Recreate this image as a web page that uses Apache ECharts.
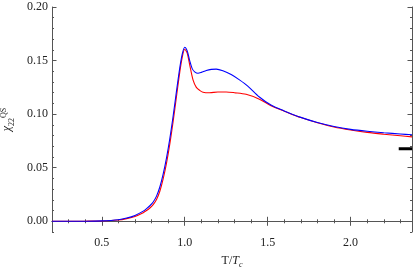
<!DOCTYPE html>
<html><head><meta charset="utf-8">
<script src="https://cdn.jsdelivr.net/npm/echarts@6/dist/echarts.min.js"></script>
<style>html,body{margin:0;padding:0;background:#fff}#c{width:417px;height:272px}</style>
</head><body><div id="c"></div>
<script>
// Blue curve
const blueX = [0.20,0.40,0.50,0.60,0.65,0.70,0.75,0.77,0.79,0.81,0.83,0.85,0.87,0.89,0.91,0.93,0.95,0.97,0.985,1.00,1.015,1.03,1.045,1.06,1.08,1.10,1.13,1.16,1.19,1.23,1.28,1.33,1.38,1.45,1.52,1.60,1.70,1.80,1.90,2.00,2.10,2.20,2.30,2.37];
const blueY = [0.0000,0.0001,0.0004,0.0015,0.0030,0.0055,0.0095,0.0118,0.0145,0.0180,0.0235,0.0320,0.0440,0.0590,0.0770,0.0980,0.1210,0.1430,0.1560,0.1625,0.1590,0.1500,0.1425,0.1395,0.1382,0.1390,0.1408,0.1418,0.1420,0.1405,0.1370,0.1320,0.1262,0.1160,0.1085,0.1030,0.0970,0.0922,0.0885,0.0858,0.0840,0.0826,0.0815,0.0807];
// Red curve
const redX = [0.20,0.40,0.50,0.60,0.65,0.70,0.75,0.77,0.79,0.81,0.83,0.85,0.87,0.89,0.91,0.93,0.95,0.97,0.985,1.00,1.015,1.03,1.05,1.07,1.09,1.11,1.15,1.20,1.25,1.30,1.37,1.45,1.52,1.60,1.70,1.80,1.90,2.00,2.10,2.20,2.30,2.37];
const redY = [0.0000,0.0001,0.0003,0.0012,0.0025,0.0045,0.0080,0.0100,0.0124,0.0155,0.0203,0.0280,0.0395,0.0540,0.0720,0.0930,0.1160,0.1390,0.1530,0.1605,0.1570,0.1460,0.1320,0.1250,0.1222,0.1205,0.1200,0.1207,0.1207,0.1200,0.1185,0.1140,0.1078,0.1028,0.0968,0.0920,0.0880,0.0852,0.0830,0.0813,0.0798,0.0788];
// Short black reference bar
const barX = [2.29, 2.37];
const barY = [0.0676, 0.0676];
// Ticks
const xMajor = [0.5, 1.0, 1.5, 2.0];
const yMajor = [0.00, 0.05, 0.10, 0.15, 0.20];
const xRange = [0.2, 2.37];
const yRange = [-0.01, 0.20];

const frame = '#555';
const font = "'Liberation Serif', 'DejaVu Serif', serif";
const pair = (xs, ys) => xs.map((x, i) => [x, ys[i]]);
const isMult = (v, s) => Math.abs(v / s - Math.round(v / s)) < 1e-6;

const gridRect = {left: 52, right: 5, top: 7, bottom: 40, containLabel: false, outerBoundsMode: 'none'};
function xAx(grid, pos, minor) {
  return {
    type: 'value', gridIndex: grid, position: pos, min: xRange[0], max: xRange[1],
    interval: minor ? 0.1 : undefined,
    axisLine: {show: minor, lineStyle: {color: frame, width: 1}},
    axisTick: minor ? {show: true, inside: true, length: 2, lineStyle: {color: frame}}
                    : {show: true, inside: true, length: 4.5, customValues: xMajor, lineStyle: {color: frame}},
    axisLabel: (minor && pos === 'bottom') ? {show: true, margin: 5, color: '#222', fontFamily: font, fontSize: 12,
      formatter: v => isMult(v, 0.5) ? v.toFixed(1) : ''} : {show: false},
    splitLine: {show: false}
  };
}
function yAx(grid, pos, minor) {
  return {
    type: 'value', gridIndex: grid, position: pos, min: yRange[0], max: yRange[1],
    interval: minor ? 0.01 : undefined,
    axisLine: {show: minor, lineStyle: {color: frame, width: 1}},
    axisTick: minor ? {show: true, inside: true, length: 2, lineStyle: {color: frame}}
                    : {show: true, inside: true, length: 4.5, customValues: yMajor, lineStyle: {color: frame}},
    axisLabel: (minor && pos === 'left') ? {show: true, margin: 4, color: '#222', fontFamily: font, fontSize: 12,
      formatter: v => (isMult(v, 0.05) && v > -0.001) ? Math.abs(v).toFixed(2) : ''} : {show: false},
    splitLine: {show: false}
  };
}

const xAxes = [xAx(0, 'bottom', true), xAx(0, 'top', true), xAx(1, 'bottom', false), xAx(1, 'top', false)];
const yAxes = [yAx(0, 'left', true), yAx(0, 'right', true), yAx(1, 'left', false), yAx(1, 'right', false)];

xAxes[0].name = '{n|T/}{i|T}{s|c}';
xAxes[0].nameLocation = 'middle';
xAxes[0].nameGap = 21;
xAxes[0].nameTextStyle = {color: '#222', rich: {
  n: {fontFamily: font, fontSize: 12, color: '#222', lineHeight: 16},
  i: {fontFamily: font, fontSize: 12, fontStyle: 'italic', color: '#222', lineHeight: 16},
  s: {fontFamily: font, fontSize: 8, fontStyle: 'italic', color: '#222', verticalAlign: 'bottom', lineHeight: 9}
}};
yAxes[0].name = '{a|χ}{b|22}{c|QS}';
yAxes[0].nameLocation = 'middle';
yAxes[0].nameGap = 29;
yAxes[0].nameTextStyle = {color: '#222', rich: {
  a: {fontFamily: font, fontSize: 12, fontStyle: 'italic', color: '#222', lineHeight: 18},
  b: {fontFamily: font, fontSize: 8, color: '#222', verticalAlign: 'bottom', lineHeight: 9},
  c: {fontFamily: font, fontSize: 8, color: '#222', verticalAlign: 'top', lineHeight: 9, padding: [2, 0, 0, 0]}
}};

const chart = echarts.init(document.getElementById('c'), null, {renderer: 'canvas'});
chart.setOption({
  animation: false,
  backgroundColor: '#fff',
  grid: [Object.assign({}, gridRect), Object.assign({}, gridRect)],
  xAxis: xAxes,
  yAxis: yAxes,
  series: [
    {type: 'line', xAxisIndex: 0, yAxisIndex: 0, data: pair(redX, redY), showSymbol: false,
     smooth: 0.3, lineStyle: {color: '#ff0000', width: 1.1}, z: 3},
    {type: 'line', xAxisIndex: 0, yAxisIndex: 0, data: pair(blueX, blueY), showSymbol: false,
     smooth: 0.3, lineStyle: {color: '#0000ff', width: 1.1}, z: 4},
    {type: 'line', xAxisIndex: 0, yAxisIndex: 0, data: pair(barX, barY), showSymbol: false,
     lineStyle: {color: '#000', width: 3}, z: 5}
  ]
});
</script>
</body></html>
